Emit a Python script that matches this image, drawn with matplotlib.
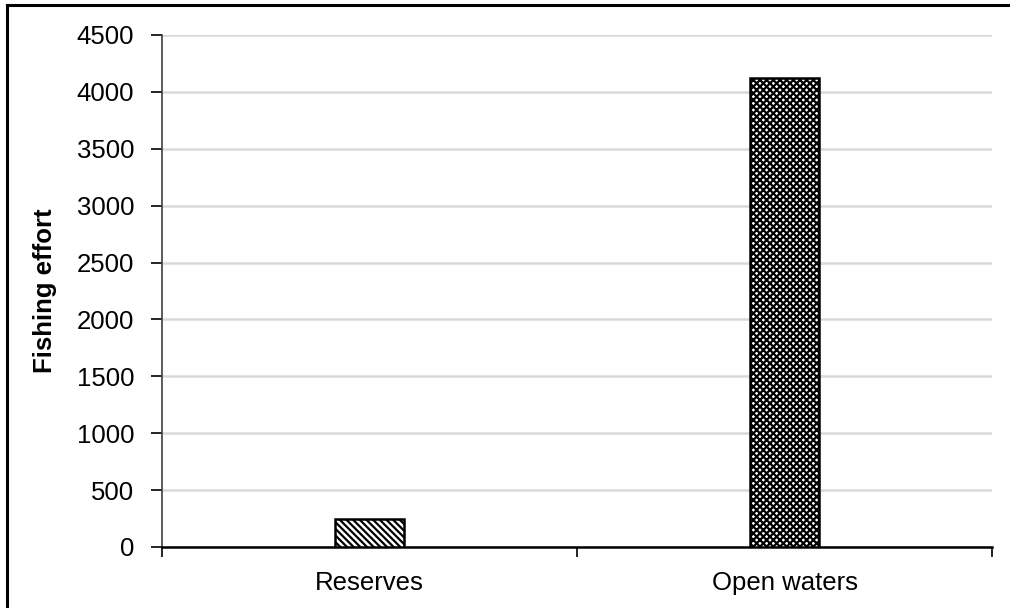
import numpy as np
import matplotlib.pyplot as plt
from matplotlib.lines import Line2D

plt.rcParams['font.family'] = ['Liberation Sans', 'DejaVu Sans']

# data
categories = ["Reserves", "Open waters"]
effort = [250, 4120]
hatches = ["\\\\\\\\\\", "xxxxx"]
y_ticks = [0, 500, 1000, 1500, 2000, 2500, 3000, 3500, 4000, 4500]

fig = plt.figure(figsize=(10.1, 6.08), dpi=100)
ax = fig.add_axes([162 / 1010, 1 - 547 / 608, 830 / 1010, 512 / 608])

x = np.arange(len(categories))
plt.rcParams['hatch.linewidth'] = 1.6
for xi, val, h in zip(x, effort, hatches):
    ax.bar(xi, val, width=0.165, color='white', edgecolor='black',
           hatch=h, linewidth=1.8, zorder=3)

ax.set_xlim(-0.5, 1.5)
ax.set_ylim(0, 4500)
ax.set_yticks(y_ticks)
ax.set_yticklabels([str(t) for t in y_ticks], fontsize=18.5)
ax.yaxis.grid(True, color='#d9d9d9', linewidth=1.8, zorder=0)
ax.set_axisbelow(True)

# categories labelled at centre, ticks at boundaries
ax.set_xticks([-0.5, 0.5, 1.5])
ax.set_xticklabels([])
ax.set_xticks(x, minor=True)
ax.set_xticklabels(categories, minor=True, fontsize=18.5)
ax.tick_params(axis='x', which='major', direction='out', length=7, width=1.2)
ax.tick_params(axis='x', which='minor', length=0, pad=17)
ax.tick_params(axis='y', direction='out', length=8, width=1.2, pad=12)

for side in ['top', 'right']:
    ax.spines[side].set_visible(False)
ax.spines['left'].set_color('#404040')
ax.spines['left'].set_linewidth(1.2)
ax.spines['bottom'].set_linewidth(1.8)

ax.set_ylabel("Fishing effort", fontsize=18.5, fontweight='bold', labelpad=14)

# outer chart frame (top and left edges visible in the reference)
fig.add_artist(Line2D([7 / 1010, 7 / 1010], [0, 1 - 5 / 608], color='black', linewidth=2.2))
fig.add_artist(Line2D([7 / 1010, 1.02], [1 - 5 / 608, 1 - 5 / 608], color='black', linewidth=2.2))

fig.savefig("out.png", dpi=100)
